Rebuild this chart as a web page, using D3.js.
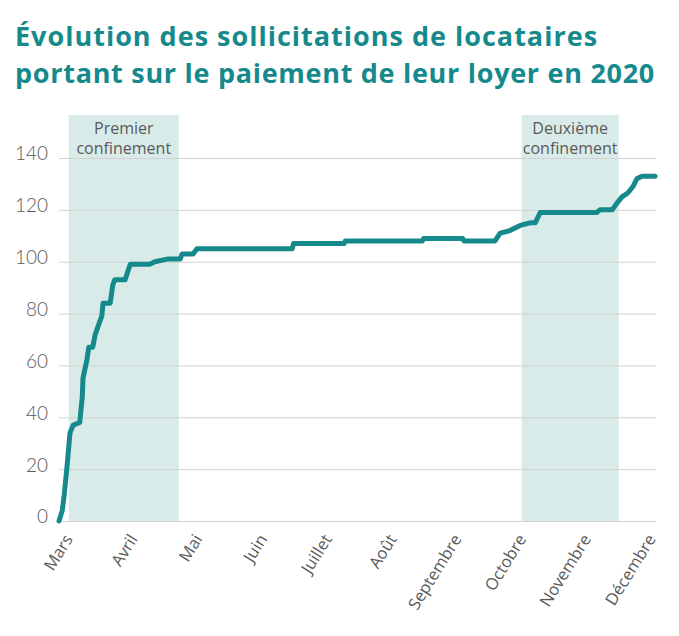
<!DOCTYPE html>
<html><head><meta charset="utf-8">
<script src="https://cdn.jsdelivr.net/npm/d3@7"></script>
<style>body{margin:0;background:#fff}svg{display:block}</style>
</head><body><svg id="c" width="679" height="636"></svg>
<script>
// ---- Data ----
const titre = ["Évolution des sollicitations de locataires", "portant sur le paiement de leur loyer en 2020"];
const moisLabels = ["Mars","Avril","Mai","Juin","Juillet","Août","Septembre","Octobre","Novembre","Décembre"];
const yTicks = [0,20,40,60,80,100,120,140];
// x position in months from "Mars" (0) ; y = cumulative number of requests
const mois = [-0.20,-0.15,-0.12,-0.08,-0.03,0.02,0.12,0.16,0.17,0.23,0.26,0.32,0.36,0.43,0.46,0.48,0.59,0.63,0.66,0.82,0.90,1.20,1.28,1.47,1.67,1.70,1.87,1.93,3.40,3.42,4.20,4.22,5.41,5.43,6.03,6.05,6.53,6.61,6.76,6.92,7.07,7.15,7.23,8.10,8.15,8.34,8.41,8.49,8.58,8.66,8.72,8.80,9.00];
const sollicitations = [0,4,10,20,34,37,38,48,55,62,67,67,72,77,79,84,84,91,93,93,99,99,100,101,101,103,103,105,105,107,107,108,108,109,109,108,108,111,112,114,115,115,119,119,120,120,122.5,125,126.5,129,132,133,133];
const confinementNoms = [["Premier","confinement"],["Deuxième","confinement"]];
const confinementDebut = [-0.05, 6.94];
const confinementFin = [1.65, 8.44];

// ---- Chart ----
const svg = d3.select("#c");
const mLeft = 59, mRight = 655, mTop = 158, mBottom = 521;
const bandTop = 115;
const teal = "#15898b";
const grey = "#5a5a5a";
const font = "'Open Sans', Lato, sans-serif";
const fontL = "Lato, 'Open Sans', sans-serif";

const x = d3.scaleLinear().domain([-0.2, 9]).range([mLeft, mRight]);
const y = d3.scaleLinear().domain([0, 140]).range([mBottom, mTop]);

// title (fitted to the reference widths)
const tg = svg.append("g");
const titleW = [597, 640];
const tt = titre.map((t, i) => tg.append("text").attr("x", 15).attr("y", 46 + i * 37)
    .attr("fill", teal).attr("font-family", font).attr("font-weight", 700)
    .attr("font-size", 26).text(t));
const w2 = tt[1].node().getComputedTextLength();
const fs = Math.min(27, 26 * titleW[1] / w2);
tt.forEach(t => t.attr("font-size", fs));
tt.forEach((t, i) => {
  const w = t.node().getComputedTextLength();
  const n = titre[i].length;
  t.attr("letter-spacing", Math.max(-0.5, Math.min(1, (titleW[i] - w) / n)));
});

// bands
const bands = svg.append("g");
confinementNoms.forEach((n, i) => {
  bands.append("rect").attr("x", x(confinementDebut[i])).attr("y", bandTop)
    .attr("width", x(confinementFin[i]) - x(confinementDebut[i]))
    .attr("height", mBottom - bandTop).attr("fill", "#d8ebe8");
  const cx = (x(confinementDebut[i]) + x(confinementFin[i])) / 2;
  n.forEach((s, j) => {
    bands.append("text").attr("x", cx).attr("y", 134 + j * 20)
      .attr("text-anchor", "middle").attr("fill", grey)
      .attr("font-family", font).attr("font-weight", 400).attr("font-size", 16).text(s);
  });
});

// y axis + grid
const ya = svg.append("g").attr("transform", `translate(${mLeft},0)`)
  .call(d3.axisLeft(y).tickValues(yTicks).tickSize(-(mRight + 1 - mLeft)).tickPadding(11));
ya.select(".domain").remove();
ya.selectAll(".tick line").attr("stroke", "#d2d2d2").attr("stroke-width", 1);
ya.selectAll(".tick text").attr("fill", grey).attr("font-family", fontL)
  .attr("font-weight", 300).attr("font-size", 19).attr("dy", "0.1em");

// x axis
const xa = svg.append("g").attr("transform", `translate(0,${mBottom})`)
  .call(d3.axisBottom(x).tickValues(d3.range(moisLabels.length)).tickFormat(i => moisLabels[i]).tickSize(0));
xa.select(".domain").remove();
xa.selectAll(".tick text").attr("fill", grey).attr("font-family", font)
  .attr("font-weight", 400).attr("font-size", 16.5)
  .attr("x", 0).attr("y", 0).attr("dy", 0)
  .attr("text-anchor", "end")
  .attr("transform", "translate(1,18) rotate(-58)");

// line
const pts = mois.map((m, i) => [m, sollicitations[i]]);
svg.append("path").datum(pts)
  .attr("fill", "none").attr("stroke", teal).attr("stroke-width", 5)
  .attr("stroke-linejoin", "round").attr("stroke-linecap", "round")
  .attr("d", d3.line().x(d => x(d[0])).y(d => y(d[1])));
</script>
</body></html>
